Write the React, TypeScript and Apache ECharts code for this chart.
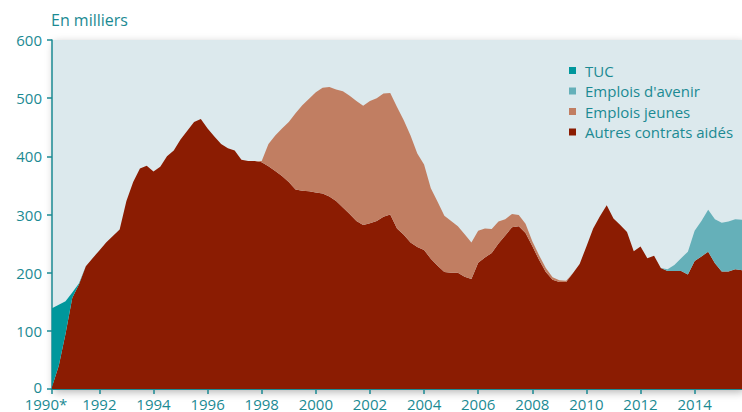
import React, { useEffect, useRef } from "react";
import * as echarts from "echarts";

// Quarterly categories, 1990 Q2 .. 2015 Q4
const quarters: string[] = [];
for (let y = 1990; y <= 2015; y++) {
  for (let q = 1; q <= 4; q++) {
    if (y === 1990 && q < 2) continue;
    quarters.push(`${y}-T${q}`);
  }
}

const FIRST_LABEL = "1990*";

// Autres contrats aidés (thousands), one value per quarter from 1990 Q2
const autres = [
  4, 40, 95, 157, 180, 211, 225, 238, 252, 263,
  274, 323, 356, 379, 384, 374, 382, 400, 410, 429,
  444, 459, 464, 448, 434, 421, 414, 410, 394, 392,
  392, 390, 383, 375, 366, 356, 343, 341, 340, 338,
  336, 331, 323, 312, 301, 289, 282, 285, 289, 296,
  300, 276, 265, 252, 244, 239, 224, 212, 201, 200,
  200, 193, 189, 217, 226, 234, 250, 264, 278, 280,
  268, 246, 222, 201, 188, 184, 184, 199, 215, 245,
  276, 297, 316, 293, 282, 270, 237, 245, 225, 229,
  208, 203, 203, 203, 197, 220, 228, 236, 216, 202,
  202, 206, 204,
];

// Emplois jeunes, from quarter index 31 (1998 Q1)
const jeunesStart = 31;
const jeunes = [
  2, 38, 61, 82, 103, 131, 147, 159, 172, 182,
  188, 192, 200, 203, 206, 205, 210, 211, 212, 209,
  209, 197, 184, 161, 147, 121, 110, 97, 89, 80,
  73, 63, 55, 50, 41, 38, 28, 23, 19, 16,
  8, 8, 7, 4, 3, 2,
];

// Emplois d'avenir, from quarter index 91 (2013 Q1)
const avenirStart = 91;
const avenir = [3, 10, 22, 39, 52, 61, 72, 76, 84, 86, 86, 87];

// TUC, from quarter index 0
const tucStart = 0;
const tuc = [135, 105, 56, 9, 2];

const pad = (start: number, vals: number[]) =>
  quarters.map((_, i) => (i >= start && i < start + vals.length ? vals[i - start] : 0));

const TEAL = "#1b8a93";
const FONT = "Open Sans";

const showTick = (index: number, value: string) =>
  index === 0 || (value.endsWith("T1") && Number(value.slice(0, 4)) % 2 === 0);

export default function App() {
  const ref = useRef<HTMLDivElement>(null);
  useEffect(() => {
    if (!ref.current) return;
    const chart = echarts.init(ref.current, undefined, { renderer: "svg" });
    const mk = (name: string, color: string, data: number[]) => ({
      name,
      type: "line",
      stack: "total",
      data,
      color,
      showSymbol: false,
      symbol: "none",
      lineStyle: { width: 0 },
      areaStyle: { color, opacity: 1 },
      itemStyle: { color },
      emphasis: { disabled: true },
    });
    chart.setOption({
      animation: false,
      backgroundColor: "#ffffff",
      title: {
        text: "En milliers",
        left: 51,
        top: 12,
        padding: 0,
        textStyle: { color: TEAL, fontSize: 16, fontWeight: "normal", fontFamily: FONT },
      },
      legend: {
        orient: "vertical",
        left: 569,
        top: 63,
        padding: 0,
        itemWidth: 7,
        itemHeight: 7,
        itemGap: 5.5,
        icon: "rect",
        selectedMode: false,
        data: ["TUC", "Emplois d'avenir", "Emplois jeunes", "Autres contrats aidés"],
        textStyle: { color: TEAL, fontSize: 15, fontFamily: FONT, lineHeight: 14, padding: [0, 0, 0, 4] },
      },
      grid: {
        left: 52,
        right: -2.6,
        top: 40,
        bottom: 23,
        show: true,
        backgroundColor: "#dce9ed",
        borderWidth: 0,
        shadowBlur: 8,
        shadowColor: "rgba(0,0,0,0.3)",
        shadowOffsetX: 2,
        shadowOffsetY: 3,
      },
      xAxis: {
        type: "category",
        boundaryGap: false,
        data: quarters.map((q, i) =>
          i === 0 ? { value: q, textStyle: { padding: [0, 12, 0, 0] } } : q
        ),
        axisLine: { lineStyle: { color: TEAL, width: 2 } },
        axisTick: { interval: showTick, length: 5, lineStyle: { color: TEAL, width: 1.5 } },
        axisLabel: {
          interval: showTick,
          formatter: (v: string) => (v === quarters[0] ? FIRST_LABEL : v.slice(0, 4)),
          color: TEAL,
          fontSize: 15,
          lineHeight: 13,
          fontFamily: FONT,
          margin: 8,
        },
        splitLine: { show: false },
      },
      yAxis: {
        type: "value",
        min: 0,
        max: 600,
        interval: 100,
        axisLine: { show: true, lineStyle: { color: TEAL, width: 1.5 } },
        axisTick: { show: true, length: 5, lineStyle: { color: TEAL, width: 1.5 } },
        axisLabel: {
          color: TEAL,
          fontSize: 15,
          lineHeight: 13,
          fontFamily: FONT,
          margin: 10,
          formatter: (v: number) => (v === 0 ? "{z|0}" : String(v)),
          rich: {
            z: { color: TEAL, fontSize: 15, lineHeight: 13, fontFamily: FONT, padding: [0, 0, 4, 0] },
          },
        },
        splitLine: { show: false },
      },
      series: [
        mk("Autres contrats aidés", "#8b1c02", autres),
        mk("Emplois jeunes", "#c17e62", pad(jeunesStart, jeunes)),
        mk("Emplois d'avenir", "#65b0b9", pad(avenirStart, avenir)),
        mk("TUC", "#00979c", pad(tucStart, tuc)),
      ],
    });
    return () => chart.dispose();
  }, []);
  return (
    <div
      ref={ref}
      style={{ position: "absolute", left: 0, top: 0, width: 742, height: 412 }}
    />
  );
}
